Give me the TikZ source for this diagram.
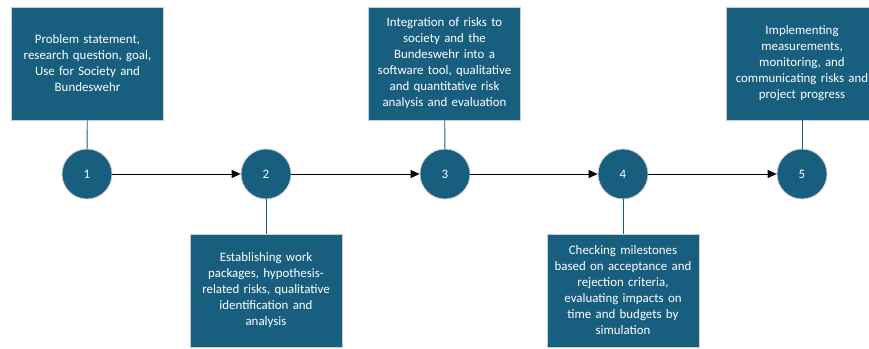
\documentclass[tikz,border=0pt]{standalone}
\usepackage{fontspec}
\setmainfont{Carlito}
\usepackage{xcolor}
\usetikzlibrary{arrows.meta,positioning}

\definecolor{stepblue}{RGB}{24,94,127}
\definecolor{stepedge}{RGB}{200,205,208}

\begin{document}
\begin{tikzpicture}[x=1pt,y=-1pt,
		phasebox/.style={draw=stepedge,line width=0.8pt,fill=stepblue,text=white,minimum width=152pt,minimum height=113pt,text width=142pt,align=center,font=\fontsize{12.9}{16}\selectfont},
		phase/.style={circle,draw=stepedge,line width=0.8pt,fill=stepblue,text=white,minimum size=50pt,inner sep=0pt,font=\fontsize{12.9}{15}\selectfont},
		link/.style={draw=stepblue,line width=0.9pt},
		flow/.style={draw=black,line width=0.9pt,-{Triangle[length=9pt,width=8pt]}}]
			\useasboundingbox (0,0) rectangle (869,348);
			% milestones
			\node[phase] (p1) at (87,174) {1}; \node[phase] (p2) at (266,174) {2}; \node[phase] (p3) at (445,174) {3};
			\node[phase] (p4) at (623,174) {4}; \node[phase] (p5) at (802,174) {5};
			% descriptions above and below
			\node[phasebox] (d1) at (87.5,63.5) {Problem statement,\\research question, goal,\\Use for Society and\\Bundeswehr};
			\node[phasebox] (d2) at (266,290.5) {Establishing work\\packages, hypothesis-\\related risks, qualitative\\identification and\\analysis};
			\node[phasebox] (d3) at (444.5,63.5) {Integration of risks to\\society and the\\Bundeswehr into a\\software tool, qualitative\\and quantitative risk\\analysis and evaluation};
			\node[phasebox] (d4) at (623,290.5) {Checking milestones\\based on acceptance and\\rejection criteria,\\evaluating impacts on\\time and budgets by\\simulation};
			\node[phasebox] (d5) at (802,63.5) {Implementing\\measurements,\\monitoring, and\\communicating risks and\\project progress};
			\draw[link] (d1) -- (p1); \draw[link] (d3) -- (p3); \draw[link] (d5) -- (p5);
			\draw[link] (p2) -- (d2); \draw[link] (p4) -- (d4);
			\draw[flow] (p1) -- (p2); \draw[flow] (p2) -- (p3); \draw[flow] (p3) -- (p4); \draw[flow] (p4) -- (p5);
		\end{tikzpicture}
\end{document}
